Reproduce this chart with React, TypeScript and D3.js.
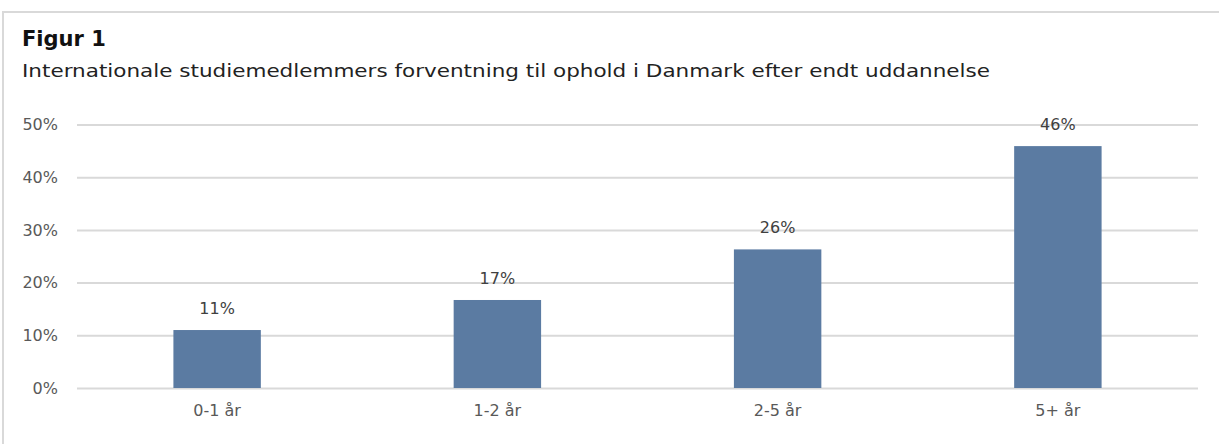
import React, { useEffect, useRef } from "react";
import * as d3 from "d3";

const categories = ["0-1 år", "1-2 år", "2-5 år", "5+ år"];
const values = [11.0, 16.7, 26.3, 45.9];
const valueLabels = ["11%", "17%", "26%", "46%"];
const yTicks = [0, 10, 20, 30, 40, 50];

const title = "Figur 1";
const subtitle =
  "Internationale studiemedlemmers forventning til ophold i Danmark efter endt uddannelse";

const App = () => {
  const ref = useRef<SVGSVGElement>(null);

  useEffect(() => {
    const width = 1219;
    const height = 444;
    const font = "'DejaVu Sans', sans-serif";
    const margin = { top: 124.5, right: 21, bottom: 56, left: 77 };
    const innerW = width - margin.left - margin.right;
    const innerH = height - margin.top - margin.bottom;

    const svg = d3.select(ref.current);
    svg.selectAll("*").remove();
    svg.attr("width", width).attr("height", height);

    svg.append("rect")
      .attr("width", width)
      .attr("height", height)
      .attr("fill", "#fff");

    // outer frame
    svg.append("rect")
      .attr("x", 3)
      .attr("y", 12)
      .attr("width", width + 10)
      .attr("height", height + 10)
      .attr("fill", "none")
      .attr("stroke", "#d9d9d9")
      .attr("stroke-width", 2);

    svg.append("text")
      .attr("x", 22)
      .attr("y", 46)
      .attr("font-family", font)
      .attr("font-weight", 700)
      .attr("font-size", 21)
      .attr("fill", "#111")
      .text(title);

    const sub = svg.append("text")
      .attr("x", 22)
      .attr("y", 77)
      .attr("font-family", font)
      .attr("font-size", 17.5)
      .attr("fill", "#222")
      .text(subtitle);
    const subLen = (sub.node() as SVGTextElement).getComputedTextLength();
    if (Math.abs(subLen - 968) > 4) {
      sub.attr("textLength", 968).attr("lengthAdjust", "spacingAndGlyphs");
    }

    const g = svg.append("g")
      .attr("transform", `translate(${margin.left}, ${margin.top})`);

    const x = d3.scaleBand()
      .domain(categories)
      .range([0, innerW])
      .paddingInner(0.688)
      .paddingOuter(0.344);

    const y = d3.scaleLinear().domain([0, 50]).range([innerH, 0]);

    // gridlines + y labels
    const yAxis = g.append("g")
      .call(
        d3.axisLeft(y)
          .tickValues(yTicks)
          .tickSize(-innerW)
          .tickPadding(19)
          .tickFormat((d) => `${d}%`)
      );
    yAxis.select(".domain").remove();
    yAxis.selectAll(".tick line").attr("stroke", "#d9d9d9").attr("stroke-width", 2);
    yAxis.selectAll(".tick text")
      .attr("font-family", font)
      .attr("font-size", 16)
      .attr("fill", "#595959");

    g.selectAll("rect.bar")
      .data(values)
      .enter()
      .append("rect")
      .attr("class", "bar")
      .attr("x", (_, i) => x(categories[i])!)
      .attr("y", (d) => y(d))
      .attr("width", x.bandwidth())
      .attr("height", (d) => innerH - y(d))
      .attr("fill", "#5b7ba2");

    g.selectAll("text.val")
      .data(values)
      .enter()
      .append("text")
      .attr("class", "val")
      .attr("x", (_, i) => x(categories[i])! + x.bandwidth() / 2)
      .attr("y", (d) => y(d) - 16)
      .attr("text-anchor", "middle")
      .attr("font-family", font)
      .attr("font-size", 16)
      .attr("fill", "#404040")
      .text((_, i) => valueLabels[i]);

    const xAxis = g.append("g")
      .attr("transform", `translate(0, ${innerH})`)
      .call(d3.axisBottom(x).tickSize(0).tickPadding(17));
    xAxis.select(".domain").remove();
    xAxis.selectAll(".tick text")
      .attr("font-family", font)
      .attr("font-size", 16)
      .attr("fill", "#595959");
  }, []);

  return (
    <svg ref={ref} style={{ position: "absolute", left: 0, top: 0 }}></svg>
  );
};

export default App;
